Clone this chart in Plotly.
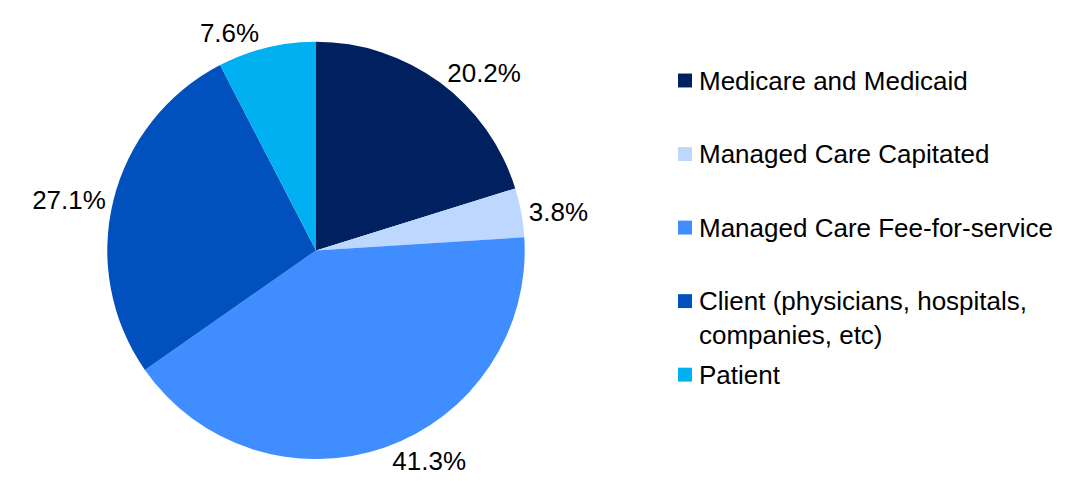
import plotly.graph_objects as go

categories = ["Medicare and Medicaid", "Managed Care Capitated", "Managed Care Fee-for-service",
              "Client (physicians, hospitals,<br>companies, etc)", "Patient"]
shares = [20.2, 3.8, 41.3, 27.1, 7.6]
colors = ["#002060", "#BDD7FF", "#3F8DFF", "#0050BE", "#00B0F0"]

W, H = 1065, 481
FONT = "Liberation Sans, Arial, sans-serif"

fig = go.Figure()
fig.add_trace(go.Pie(
    labels=categories,
    values=shares,
    text=[f"{v:.1f}%" for v in shares],
    textinfo="text",
    textposition="outside",
    textfont=dict(family=FONT, size=26, color="#000000"),
    sort=False,
    direction="clockwise",
    rotation=0,
    marker=dict(colors=colors, line=dict(width=0)),
    showlegend=False,
    hoverinfo="label+percent",
    domain=dict(x=[106 / W, 526 / W], y=[19 / H, 439 / H]),
))

# manual legend (fixed slot heights like the original)
shapes, annots = [], []
slot0, slot = 81, 74
for i, (name, col) in enumerate(zip(categories, colors)):
    cy = slot0 + slot * i
    shapes.append(dict(type="rect", xref="paper", yref="paper",
                       x0=678 / W, x1=692 / W, y0=1 - (cy + 7) / H, y1=1 - (cy - 7) / H,
                       fillcolor=col, line=dict(width=0)))
    annots.append(dict(text=name, xref="paper", yref="paper", x=697 / W, y=1 - (cy - 17) / H,
                       xanchor="left", yanchor="top", showarrow=False, align="left",
                       font=dict(family=FONT, size=26, color="#000000")))

fig.update_layout(
    width=W, height=H,
    margin=dict(l=0, r=0, t=0, b=0),
    paper_bgcolor="white", plot_bgcolor="white",
    shapes=shapes, annotations=annots,
)
fig.write_html("out.html", config={"displayModeBar": False},
               post_script="document.body.style.margin='0px';document.body.style.overflow='hidden';")
